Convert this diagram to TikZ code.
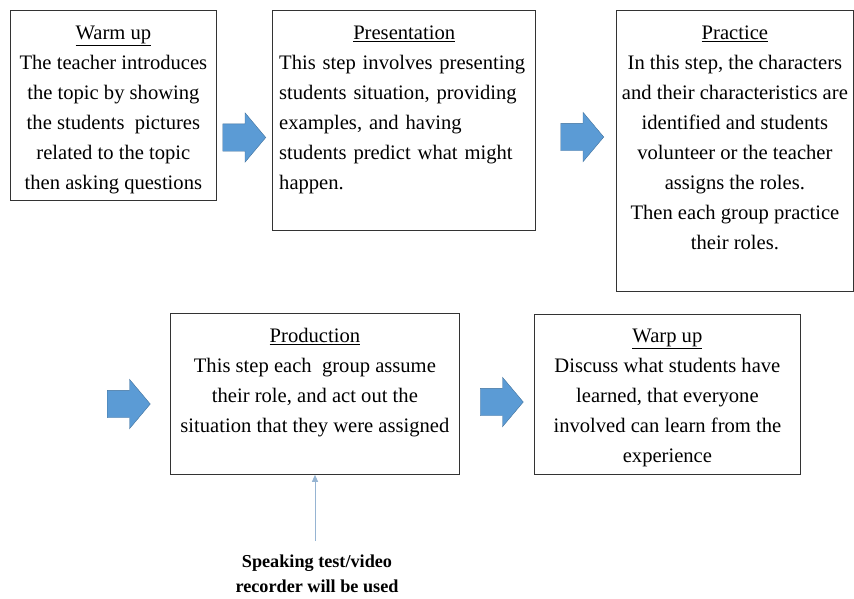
\documentclass[tikz,border=0pt]{standalone}
\usepackage{fontspec}
\setmainfont{Liberation Serif}
\usetikzlibrary{shapes.arrows,positioning,arrows.meta}

\definecolor{arrowblue}{RGB}{91,155,213}
\definecolor{arrowedge}{RGB}{65,113,156}
\definecolor{pointerblue}{RGB}{150,180,210}

\tikzset{
  stepbox/.style={draw=black!80, line width=0.8pt, anchor=north west, inner sep=0pt},
  steptext/.style={anchor=north, align=center, inner sep=0pt,
                   font=\fontsize{20.6}{30}\selectfont},
  blockarrow/.style={single arrow, fill=arrowblue, draw=arrowedge, line width=0.4pt,
                     inner xsep=0pt, inner ysep=13.5pt, minimum height=43pt,
                     single arrow head extend=11pt, single arrow tip angle=100},
  pointer/.style={pointerblue, line width=1pt, -{Triangle[length=7pt,width=6pt]}},
  notetext/.style={align=center, inner sep=0pt, font=\fontsize{18.2}{25}\bfseries}
}

\begin{document}
\begin{tikzpicture}[x=1pt,y=-1pt]

   \useasboundingbox (0,0) rectangle (854,598);

   % Boxes of the first row
   \node[stepbox, minimum width=206pt, minimum height=190pt] (warm) at (10,10) {};
   \node[stepbox, minimum width=263pt, minimum height=220pt] (pres) at (272,10) {};
   \node[stepbox, minimum width=237pt, minimum height=281pt] (prac) at (616,10) {};

   % Boxes of the second row
   \node[stepbox, minimum width=289pt, minimum height=161pt] (prod) at (170,313) {};
   \node[stepbox, minimum width=266pt, minimum height=160pt] (warp) at (534,314) {};

   % Texts
   \node[steptext] (warmtext) at ([yshift=-16pt]warm.north)
       {\underline{Warm up}\\The teacher introduces\\the topic by showing\\
        the students\ \ pictures\\related to the topic\\then asking questions};
   \node[steptext, anchor=north west, align=left, text width=250pt] (prestext)
       at ([xshift=7pt,yshift=-16pt]pres.north west)
       {\makebox[\linewidth]{\underline{Presentation}}\\This step involves presenting\\
        students situation, providing\\examples, and having\\
        students predict what might\\happen.};
   \node[steptext] (practext) at ([yshift=-16pt]prac.north)
       {\underline{Practice}\\In this step, the characters\\and their characteristics are\\
        identified and students\\volunteer or the teacher\\assigns the roles.\\
        Then each group practice\\their roles.};
   \node[steptext] (prodtext) at ([yshift=-15pt]prod.north)
       {\underline{Production}\\This step each\ \ group assume\\their role, and act out the\\
        situation that they were assigned};
   \node[steptext] (warptext) at ([yshift=-15pt]warp.north)
       {\underline{Warp up}\\Discuss what students have\\learned, that everyone\\
        involved can learn from the\\experience};

   % Block arrows
   \foreach \name/\x/\y in {arrowa/238.5/137.5, arrowb/576.5/137,
                            arrowc/123/404, arrowd/496/402}
       \node[blockarrow] (\name) at (\x,\y) {};

   % Note below the production step
   \node[notetext] (note) at (317,574) {Speaking test/video\\recorder will be used};
   \coordinate (notetop) at (315,541);
   \draw[pointer] (notetop) -- (notetop |- prod.south);

\end{tikzpicture}
\end{document}
